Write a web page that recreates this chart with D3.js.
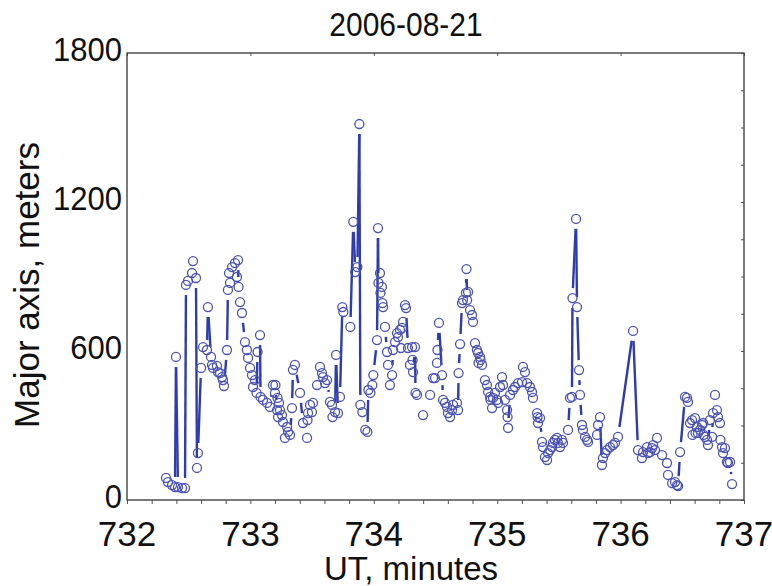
<!DOCTYPE html>
<html><head><meta charset="utf-8">
<script src="https://cdn.jsdelivr.net/npm/d3@7"></script>
<style>html,body{margin:0;padding:0;background:#fff;}svg{display:block;}</style>
</head><body>
<script>
const title = "2006-08-21";
const xLabel = "UT, minutes";
const yLabel = "Major axis, meters";
const xTicks = [732, 733, 734, 735, 736, 737];
const yTicks = [0, 600, 1200, 1800];
const timeMin = [732.316,732.332,732.365,732.389,732.397,732.413,732.446,732.470,732.478,732.494,732.527,732.535,732.559,732.567,732.575,732.600,732.616,732.648,732.656,732.681,732.689,732.697,732.729,732.737,732.754,732.770,732.778,732.786,732.810,732.818,732.827,732.835,732.851,732.875,732.891,732.900,732.904,732.916,732.932,732.956,732.972,732.981,732.997,733.013,733.021,733.037,733.050,733.058,733.078,733.082,733.102,733.135,733.159,733.183,733.199,733.203,733.216,733.220,733.224,733.232,733.240,733.256,733.264,733.280,733.297,733.305,733.321,733.337,733.345,733.361,733.402,733.426,733.459,733.463,733.467,733.483,733.499,733.507,733.540,733.564,733.580,733.588,733.605,733.621,733.645,733.661,733.665,733.686,733.694,733.710,733.726,733.745,733.753,733.810,733.834,733.850,733.867,733.883,733.891,733.907,733.931,733.948,733.956,733.972,733.988,733.996,734.026,734.034,734.038,734.050,734.054,734.066,734.070,734.075,734.091,734.107,734.115,734.131,734.148,734.156,734.172,734.188,734.196,734.212,734.220,734.229,734.237,734.253,734.261,734.277,734.293,734.310,734.314,734.318,734.334,734.338,734.350,734.399,734.456,734.480,734.496,734.512,734.516,734.528,734.553,734.561,734.577,734.593,734.601,734.618,734.634,734.642,734.674,734.683,734.687,734.699,734.715,734.723,734.747,734.751,734.756,734.764,734.780,734.796,734.804,734.820,734.836,734.845,734.849,734.861,734.865,734.877,734.901,734.917,734.926,734.942,734.946,734.958,734.966,734.982,734.998,735.007,735.023,735.039,735.047,735.063,735.080,735.084,735.088,735.104,735.128,735.144,735.169,735.201,735.209,735.225,735.242,735.266,735.282,735.290,735.323,735.327,735.331,735.347,735.363,735.371,735.387,735.404,735.412,735.428,735.444,735.452,735.468,735.485,735.493,735.509,735.525,735.533,735.574,735.590,735.606,735.610,735.639,735.647,735.663,735.671,735.687,735.695,735.712,735.728,735.736,735.809,735.817,735.833,735.849,735.857,735.874,735.890,735.914,735.938,735.955,735.979,736.101,736.141,736.173,736.182,736.214,736.222,736.238,736.255,736.263,736.279,736.295,736.336,736.376,736.384,736.417,736.441,736.457,736.466,736.482,736.522,736.538,736.546,736.563,736.579,736.583,736.603,736.607,736.619,736.627,736.644,736.660,736.668,736.672,736.684,736.700,736.708,736.724,736.741,736.749,736.765,736.781,736.789,736.805,736.809,736.822,736.830,736.846,736.862,736.870,736.887,736.903];
const majorAxis = [89,72,60,52,576,52,48,48,866,882,914,962,894,129,189,532,616,604,777,576,544,532,540,515,511,495,483,459,604,846,914,874,938,954,898,966,858,797,753,636,604,572,532,503,455,483,431,596,664,415,403,391,375,463,431,463,362,411,334,391,362,342,314,250,294,274,262,370,524,544,431,310,250,322,350,383,354,391,463,536,511,495,471,483,395,383,334,354,584,350,415,777,757,697,1120,918,938,1514,383,354,282,274,443,431,463,503,644,1095,874,914,834,858,793,777,697,596,544,463,503,604,636,672,656,685,612,693,717,785,773,612,544,616,564,515,616,431,423,342,423,491,491,552,604,713,503,403,391,375,350,334,362,383,391,362,511,628,793,805,834,930,805,838,765,745,717,632,604,592,552,576,564,544,483,463,435,415,403,370,411,431,403,391,455,495,463,403,362,334,290,423,443,455,471,475,536,515,471,455,435,411,350,334,310,330,234,213,173,161,189,201,213,230,242,250,230,213,242,230,282,411,415,813,1132,777,523,423,302,282,254,242,234,262,302,334,141,169,189,201,213,221,230,254,681,201,169,193,213,189,193,209,221,201,250,181,149,101,68,72,60,56,193,415,411,395,310,322,262,330,270,294,270,282,302,310,262,254,242,221,322,254,350,423,362,334,310,242,213,189,209,153,149,153,64];

const W = 772, H = 586;
const L = 127, R = 744, T = 53, B = 500;
const svg = d3.select("body").append("svg").attr("width", W).attr("height", H)
  .style("font-family", "'Liberation Sans', Arial, sans-serif");

const x = d3.scaleLinear().domain([732, 737]).range([L, R]);
const y = d3.scaleLinear().domain([0, 1800]).range([B, T]);

const data = timeMin.map((t, i) => ({t, v: majorAxis[i]}));

// line segments between consecutive points, trimmed around the markers
const r = 4.5, gap = 10;
const segs = [];
for (let i = 1; i < data.length; i++) {
  const x1 = x(data[i-1].t), y1 = y(data[i-1].v), x2 = x(data[i].t), y2 = y(data[i].v);
  const dx = x2 - x1, dy = y2 - y1, len = Math.hypot(dx, dy);
  if (len > 2 * gap + 2) {
    const ux = dx / len, uy = dy / len;
    segs.push([x1 + ux * gap, y1 + uy * gap, x2 - ux * gap, y2 - uy * gap]);
  }
}
svg.append("g").selectAll("line").data(segs).join("line")
  .attr("x1", d => d[0]).attr("y1", d => d[1]).attr("x2", d => d[2]).attr("y2", d => d[3])
  .attr("stroke", "#2e3cae").attr("stroke-width", 2.4);

svg.append("g").selectAll("circle").data(data).join("circle")
  .attr("cx", d => x(d.t)).attr("cy", d => y(d.v)).attr("r", r)
  .attr("fill", "none").attr("stroke", "#4a52b4").attr("stroke-width", 1.3);

// axes ticks
const minorX = d3.range(732, 737.001, 0.2);
const minorY = d3.range(0, 1800.1, 150);
const gx = svg.append("g").attr("transform", `translate(0,${B})`)
  .call(d3.axisBottom(x).tickValues(minorX).tickSize(4).tickFormat(""));
const gxt = svg.append("g").attr("transform", `translate(0,${T})`)
  .call(d3.axisBottom(x).tickValues(xTicks).tickSize(3).tickFormat(""));
const gyr = svg.append("g").attr("transform", `translate(${R},0)`)
  .call(d3.axisLeft(y).tickValues(minorY).tickSize(3).tickFormat(""));
[gx, gxt, gyr].forEach(g => { g.select(".domain").remove(); g.selectAll("line").attr("stroke", "#555").attr("stroke-width", 1); });

svg.append("rect").attr("x", L).attr("y", T).attr("width", R - L).attr("height", B - T)
  .attr("fill", "none").attr("stroke", "#444").attr("stroke-width", 1.4);

// tick labels
svg.append("g").selectAll("text").data(yTicks).join("text")
  .attr("transform", d => `translate(${L - 5},${y(d) + 8}) scale(1,1.08)`)
  .attr("text-anchor", "end").attr("font-size", 31).attr("fill", "#111").text(d => d);
svg.append("g").selectAll("text").data(xTicks).join("text")
  .attr("transform", d => `translate(${x(d)},${546})`)
  .attr("text-anchor", "middle").attr("font-size", 35).attr("fill", "#111").text(d => d);

svg.append("text").attr("transform", `translate(406,36) scale(1,1.1)`)
  .attr("text-anchor", "middle").attr("font-size", 30).attr("fill", "#111").text(title);
svg.append("text").attr("transform", `translate(411,580)`)
  .attr("text-anchor", "middle").attr("font-size", 33).attr("fill", "#111").text(xLabel);
svg.append("text").attr("transform", `translate(39,285) rotate(-90)`)
  .attr("text-anchor", "middle").attr("font-size", 35).attr("fill", "#111").text(yLabel);
</script>
</body></html>
